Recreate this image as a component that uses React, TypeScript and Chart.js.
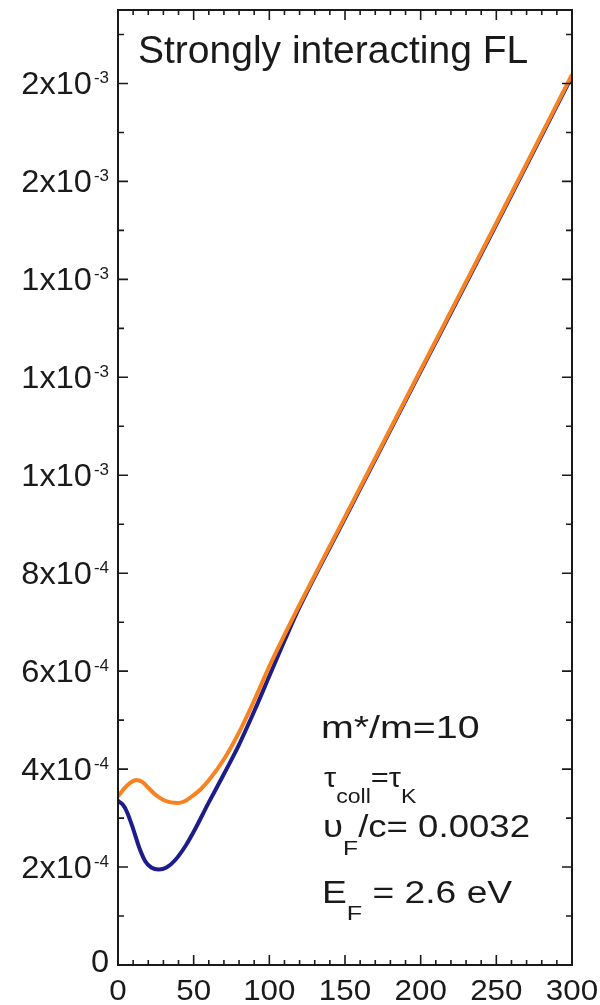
import React, { useEffect, useRef } from "react";
import { Chart, registerables } from "chart.js";

Chart.register(...registerables);

// Curve samples (x in the horizontal axis units, y in absolute units)
const orangeX = [0, 4, 8, 12, 16, 20, 25, 30, 35, 40, 45, 50, 55, 60, 70, 80, 90, 100, 110, 120, 150, 200, 250, 300];
const orangeY = [
  3.44e-4, 3.6e-4, 3.72e-4, 3.78e-4, 3.74e-4, 3.62e-4, 3.47e-4, 3.37e-4, 3.32e-4, 3.31e-4, 3.36e-4, 3.47e-4,
  3.6e-4, 3.77e-4, 4.2e-4, 4.75e-4, 5.4e-4, 6.1e-4, 6.74e-4, 7.36e-4, 9.15e-4, 1.215e-3, 1.515e-3, 1.818e-3,
];

const blueX = [0, 3, 6, 10, 14, 18, 22, 27, 32, 38, 45, 50, 60, 70, 80, 90, 100, 110, 120, 150, 200, 250, 300];
const blueY = [
  3.35e-4, 3.28e-4, 3.12e-4, 2.78e-4, 2.4e-4, 2.12e-4, 1.99e-4, 1.95e-4, 1.99e-4, 2.15e-4, 2.45e-4, 2.72e-4,
  3.32e-4, 3.9e-4, 4.5e-4, 5.18e-4, 5.9e-4, 6.62e-4, 7.31e-4, 9.12e-4, 1.212e-3, 1.512e-3, 1.815e-3,
];

// Axis ticks and labels
const xTickValues = [0, 50, 100, 150, 200, 250, 300];
const xTickLabels = ["0", "50", "100", "150", "200", "250", "300"];
const yTickValues = [0, 2e-4, 4e-4, 6e-4, 8e-4, 1e-3, 1.2e-3, 1.4e-3, 1.6e-3, 1.8e-3];
const yTickBase = ["0", "2x10", "4x10", "6x10", "8x10", "1x10", "1x10", "1x10", "2x10", "2x10"];
const yTickExp = ["", "-4", "-4", "-4", "-4", "-3", "-3", "-3", "-3", "-3"];

const X_MIN = 0;
const X_MAX = 300;
const Y_MIN = 0;
const Y_MAX = 1.95e-3;

const titleText = "Strongly interacting FL";

const FONT = '"Liberation Sans", Arial, Helvetica, sans-serif';

type Run = { text: string; size: number; dy?: number };

function drawRuns(ctx: CanvasRenderingContext2D, runs: Run[], x: number, y: number, sx: number) {
  let cx = x;
  for (const r of runs) {
    ctx.font = `${r.size}px ${FONT}`;
    ctx.save();
    ctx.translate(cx, y + (r.dy || 0));
    ctx.scale(sx, 1);
    ctx.fillText(r.text, 0, 0);
    ctx.restore();
    cx += ctx.measureText(r.text).width * sx;
  }
}

const decorations = {
  id: "frameTicksLabels",
  afterDatasetsDraw(chart: any) {
    const ctx: CanvasRenderingContext2D = chart.ctx;
    const { left, right, top, bottom } = chart.chartArea;
    const xs = chart.scales.x;
    const ys = chart.scales.y;
    ctx.save();
    ctx.strokeStyle = "#1a1a1a";
    ctx.fillStyle = "#1a1a1a";
    ctx.textAlign = "left";
    ctx.textBaseline = "alphabetic";

    // frame
    ctx.lineWidth = 2;
    ctx.strokeRect(left, top, right - left, bottom - top);

    // inward ticks on all four sides
    ctx.lineWidth = 1.6;
    ctx.beginPath();
    for (let v = X_MIN; v <= X_MAX; v += 10) {
      const px = xs.getPixelForValue(v);
      const len = v % 50 === 0 ? 10 : 5;
      ctx.moveTo(px, bottom);
      ctx.lineTo(px, bottom - len);
      ctx.moveTo(px, top);
      ctx.lineTo(px, top + len);
    }
    for (let i = 0; i <= 19; i++) {
      const v = i * 1e-4;
      const py = ys.getPixelForValue(v);
      const len = i % 2 === 0 ? 10 : 6;
      ctx.moveTo(left, py);
      ctx.lineTo(left + len, py);
      ctx.moveTo(right, py);
      ctx.lineTo(right - len, py);
    }
    ctx.stroke();

    // x tick labels
    ctx.font = `29px ${FONT}`;
    xTickValues.forEach((v, i) => {
      const px = xs.getPixelForValue(v);
      const w = ctx.measureText(xTickLabels[i]).width * 1.08;
      ctx.save();
      ctx.translate(px - w / 2, bottom + 35);
      ctx.scale(1.08, 1);
      ctx.fillText(xTickLabels[i], 0, 0);
      ctx.restore();
    });

    // y tick labels with superscript exponents
    const labelRight = left - 9;
    yTickValues.forEach((v, i) => {
      const py = ys.getPixelForValue(v);
      ctx.font = `17px ${FONT}`;
      const ew = yTickExp[i] ? ctx.measureText(yTickExp[i]).width + 2 : 0;
      ctx.font = `31px ${FONT}`;
      const bw = ctx.measureText(yTickBase[i]).width * 1.05;
      const bx = labelRight - ew - bw;
      const baseY = yTickExp[i] ? py + 11 : py + 7;
      ctx.save();
      ctx.translate(bx, baseY);
      ctx.scale(1.05, 1);
      ctx.fillText(yTickBase[i], 0, 0);
      ctx.restore();
      if (yTickExp[i]) {
        ctx.font = `17px ${FONT}`;
        ctx.fillText(yTickExp[i], labelRight - ew + 2, py);
      }
    });

    // title
    ctx.font = `39px ${FONT}`;
    ctx.fillText(titleText, left + 20, top + 53);

    // parameter block
    drawRuns(ctx, [{ text: "m*/m=10", size: 31 }], 321, 738, 1.27);
    drawRuns(
      ctx,
      [
        { text: "τ", size: 28 },
        { text: "coll", size: 21, dy: 16 },
        { text: "=", size: 28 },
        { text: "τ", size: 28 },
        { text: "K", size: 21, dy: 16 },
      ],
      324,
      787,
      1.1
    );
    drawRuns(
      ctx,
      [
        { text: "υ", size: 31 },
        { text: "F", size: 21, dy: 18 },
        { text: "/c= 0.0032", size: 31 },
      ],
      323,
      837,
      1.18
    );
    drawRuns(
      ctx,
      [
        { text: "E", size: 31 },
        { text: "F", size: 21, dy: 17 },
        { text: " = 2.6 eV", size: 31 },
      ],
      322,
      903,
      1.2
    );
    ctx.restore();
  },
};

export default function App() {
  const canvasRef = useRef<HTMLCanvasElement | null>(null);

  useEffect(() => {
    const canvas = canvasRef.current;
    if (!canvas) return;
    const chart = new Chart(canvas, {
      type: "line",
      data: {
        datasets: [
          {
            label: "orange",
            data: orangeX.map((x, i) => ({ x, y: orangeY[i] })),
            borderColor: "#f7821f",
            borderWidth: 4,
            pointRadius: 0,
            fill: false,
            cubicInterpolationMode: "monotone",
          },
          {
            label: "blue",
            data: blueX.map((x, i) => ({ x, y: blueY[i] })),
            borderColor: "#1c1c8a",
            borderWidth: 4,
            pointRadius: 0,
            fill: false,
            cubicInterpolationMode: "monotone",
          },
        ],
      },
      options: {
        animation: false,
        responsive: false,
        maintainAspectRatio: false,
        layout: { padding: { left: 118, right: 28, top: 10, bottom: 40 } },
        plugins: { legend: { display: false }, tooltip: { enabled: false } },
        scales: {
          x: { type: "linear", min: X_MIN, max: X_MAX, display: false },
          y: { type: "linear", min: Y_MIN, max: Y_MAX, display: false },
        },
      },
      plugins: [decorations],
    });
    return () => chart.destroy();
  }, []);

  return (
    <div style={{ position: "absolute", left: 0, top: 0, width: 600, height: 1005, background: "#fff" }}>
      <canvas ref={canvasRef} width={600} height={1005} style={{ width: 600, height: 1005, display: "block" }} />
    </div>
  );
}
